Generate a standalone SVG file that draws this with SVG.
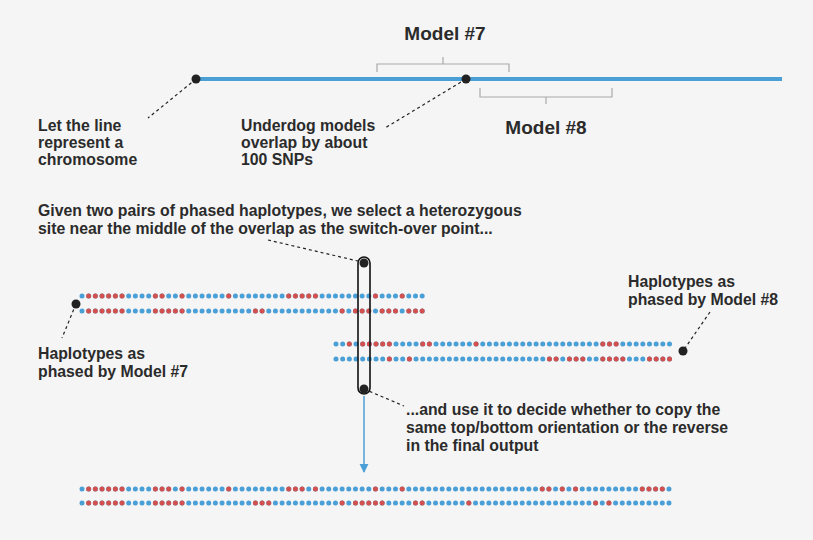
<svg xmlns="http://www.w3.org/2000/svg" width="813" height="540" viewBox="0 0 813 540">
<style>
text{font-family:"Liberation Sans",Arial,sans-serif;font-weight:bold;fill:#2b2b2b;font-size:15.8px}
.big{font-size:19px}
.dash{stroke:#222;stroke-width:1.2;stroke-dasharray:3 3;fill:none}
.br{stroke:#aaa;stroke-width:1.2;fill:none}
.b{stroke:#4a9fd6;stroke-width:5;stroke-linecap:round;stroke-dasharray:0 6.67}
.r circle{fill:#d2504d;r:2.5px}
.k{fill:#222}
</style>
<defs><marker id="ar" viewBox="0 0 10 10" refX="9" refY="5" markerWidth="6" markerHeight="8" orient="auto"><path d="M0,0L10,5L0,10z" fill="#4a9fd6"/></marker></defs>
<rect width="813" height="540" fill="#f5f5f5"/>
<g id="chromosome">
<line x1="196" y1="79" x2="782" y2="79" stroke="#4a9fd6" stroke-width="4"/>
<path class="br" d="M377,72V64H443V57M443,64H509V72"/>
<path class="br" d="M480,88V97H546V104M546,97H612V88"/>
<circle class="k" cx="196" cy="79" r="4.5"/>
<circle class="k" cx="466" cy="79" r="4.5"/>
<text class="big" x="445" y="40" text-anchor="middle">Model #7</text>
<text class="big" x="546" y="134" text-anchor="middle">Model #8</text>
</g>
<g id="connectors">
<path class="dash" d="M196,79L148,118"/>
<path class="dash" d="M466,79L385,128"/>
<path class="dash" d="M268,240L362,262"/>
<path class="dash" d="M76,304L62,338"/>
<path class="dash" d="M710,312L683,351"/>
<path class="dash" d="M364,389L404,406"/>
<line x1="364" y1="396" x2="364" y2="472" stroke="#4a9fd6" stroke-width="1.5" marker-end="url(#ar)"/>
</g>
<g id="labels">
<text x="38" y="131">Let the line</text><text x="38" y="148">represent a</text><text x="38" y="165">chromosome</text>
<text x="241" y="131">Underdog models</text><text x="241" y="148">overlap by about</text><text x="241" y="165">100 SNPs</text>
<text x="38" y="216">Given two pairs of phased haplotypes, we select a heterozygous</text>
<text x="38" y="234">site near the middle of the overlap as the switch-over point...</text>
<text x="38" y="359">Haplotypes as</text><text x="38" y="377">phased by Model #7</text>
<text x="628" y="287">Haplotypes as</text><text x="628" y="305">phased by Model #8</text>
<text x="406" y="415">...and use it to decide whether to copy the</text>
<text x="406" y="433">same top/bottom orientation or the reverse</text>
<text x="406" y="451">in the final output</text>
</g>
<g id="model7">
<line class="b" x1="82" y1="296" x2="423" y2="296"/>
<line class="b" x1="82" y1="311" x2="423" y2="311"/>
<g class="r" transform="translate(82,296)"><circle cx="6.67" r="2.5"/><circle cx="13.34" r="2.5"/><circle cx="20.01" r="2.5"/><circle cx="26.68" r="2.5"/><circle cx="33.35" r="2.5"/><circle cx="40.02" r="2.5"/><circle cx="73.37" r="2.5"/><circle cx="80.04" r="2.5"/><circle cx="100.05" r="2.5"/><circle cx="146.74" r="2.5"/><circle cx="206.77" r="2.5"/><circle cx="213.44" r="2.5"/><circle cx="220.11" r="2.5"/><circle cx="226.78" r="2.5"/><circle cx="233.45" r="2.5"/><circle cx="293.48" r="2.5"/><circle cx="320.16" r="2.5"/></g>
<g class="r" transform="translate(82,311)"><circle cx="6.67" r="2.5"/><circle cx="13.34" r="2.5"/><circle cx="20.01" r="2.5"/><circle cx="26.68" r="2.5"/><circle cx="33.35" r="2.5"/><circle cx="40.02" r="2.5"/><circle cx="73.37" r="2.5"/><circle cx="80.04" r="2.5"/><circle cx="86.71" r="2.5"/><circle cx="93.38" r="2.5"/><circle cx="100.05" r="2.5"/><circle cx="173.42" r="2.5"/><circle cx="180.09" r="2.5"/><circle cx="260.13" r="2.5"/><circle cx="273.47" r="2.5"/><circle cx="280.14" r="2.5"/><circle cx="286.81" r="2.5"/><circle cx="300.15" r="2.5"/><circle cx="306.82" r="2.5"/><circle cx="313.49" r="2.5"/><circle cx="326.83" r="2.5"/><circle cx="333.5" r="2.5"/><circle cx="340.17" r="2.5"/></g>
<circle class="k" cx="76" cy="304" r="4.5"/>
</g>
<g id="model8">
<line class="b" x1="336" y1="344" x2="670" y2="344"/>
<line class="b" x1="336" y1="359" x2="670" y2="359"/>
<g class="r" transform="translate(336,344)"><circle cx="13.34" r="2.5"/><circle cx="26.68" r="2.5"/><circle cx="33.35" r="2.5"/><circle cx="40.02" r="2.5"/><circle cx="46.69" r="2.5"/><circle cx="53.36" r="2.5"/><circle cx="86.71" r="2.5"/><circle cx="93.38" r="2.5"/><circle cx="140.07" r="2.5"/><circle cx="266.8" r="2.5"/><circle cx="273.47" r="2.5"/><circle cx="280.14" r="2.5"/></g>
<g class="r" transform="translate(336,359)"><circle cx="53.36" r="2.5"/><circle cx="73.37" r="2.5"/><circle cx="213.44" r="2.5"/><circle cx="220.11" r="2.5"/><circle cx="233.45" r="2.5"/><circle cx="240.12" r="2.5"/><circle cx="246.79" r="2.5"/><circle cx="266.8" r="2.5"/><circle cx="273.47" r="2.5"/><circle cx="280.14" r="2.5"/><circle cx="286.81" r="2.5"/><circle cx="313.49" r="2.5"/><circle cx="320.16" r="2.5"/><circle cx="326.83" r="2.5"/><circle cx="333.5" r="2.5"/></g>
<circle class="k" cx="683" cy="351" r="4.5"/>
</g>
<g id="switch">
<rect x="358" y="257" width="12" height="137" rx="6" fill="none" stroke="#111" stroke-width="1.6"/>
<circle class="k" cx="364" cy="263" r="4.5"/>
<circle class="k" cx="364" cy="389" r="4.5"/>
</g>
<g id="output">
<line class="b" x1="82" y1="489" x2="669" y2="489"/>
<line class="b" x1="82" y1="503" x2="669" y2="503"/>
<g class="r" transform="translate(82,489)"><circle cx="6.67" r="2.5"/><circle cx="13.34" r="2.5"/><circle cx="20.01" r="2.5"/><circle cx="26.68" r="2.5"/><circle cx="33.35" r="2.5"/><circle cx="40.02" r="2.5"/><circle cx="73.37" r="2.5"/><circle cx="80.04" r="2.5"/><circle cx="86.71" r="2.5"/><circle cx="100.05" r="2.5"/><circle cx="146.74" r="2.5"/><circle cx="206.77" r="2.5"/><circle cx="213.44" r="2.5"/><circle cx="220.11" r="2.5"/><circle cx="233.45" r="2.5"/><circle cx="293.48" r="2.5"/><circle cx="320.16" r="2.5"/><circle cx="460.23" r="2.5"/><circle cx="466.9" r="2.5"/><circle cx="480.24" r="2.5"/><circle cx="493.58" r="2.5"/><circle cx="560.28" r="2.5"/><circle cx="566.95" r="2.5"/><circle cx="573.62" r="2.5"/><circle cx="580.29" r="2.5"/></g>
<g class="r" transform="translate(82,503)"><circle cx="6.67" r="2.5"/><circle cx="13.34" r="2.5"/><circle cx="20.01" r="2.5"/><circle cx="26.68" r="2.5"/><circle cx="33.35" r="2.5"/><circle cx="40.02" r="2.5"/><circle cx="73.37" r="2.5"/><circle cx="80.04" r="2.5"/><circle cx="86.71" r="2.5"/><circle cx="93.38" r="2.5"/><circle cx="100.05" r="2.5"/><circle cx="173.42" r="2.5"/><circle cx="180.09" r="2.5"/><circle cx="186.76" r="2.5"/><circle cx="260.13" r="2.5"/><circle cx="273.47" r="2.5"/><circle cx="280.14" r="2.5"/><circle cx="286.81" r="2.5"/><circle cx="293.48" r="2.5"/><circle cx="300.15" r="2.5"/><circle cx="333.5" r="2.5"/><circle cx="340.17" r="2.5"/><circle cx="386.86" r="2.5"/><circle cx="513.59" r="2.5"/><circle cx="526.93" r="2.5"/></g>
</g>
</svg>
